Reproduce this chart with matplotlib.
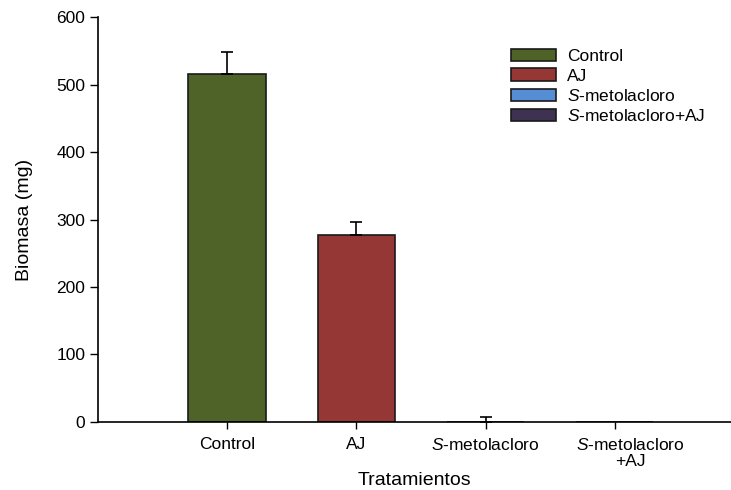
import matplotlib
matplotlib.use('Agg')
import matplotlib.pyplot as plt
import matplotlib.transforms as mtransforms
from matplotlib.patches import Patch

plt.rcParams['font.family'] = ['Liberation Sans', 'DejaVu Sans']
plt.rcParams['mathtext.fontset'] = 'custom'
plt.rcParams['mathtext.rm'] = 'Liberation Sans'
plt.rcParams['mathtext.it'] = 'Liberation Sans:italic'

# data
tratamientos = ['Control', 'AJ', 'S-metolacloro', 'S-metolacloro+AJ']
tick_labels = ['Control', 'AJ', r'$\it{S}$-metolacloro', r'$\it{S}$-metolacloro' + '\n+AJ']
legend_labels = ['Control', 'AJ', r'$\it{S}$-metolacloro', r'$\it{S}$-metolacloro+AJ']
biomasa = [515, 277, 0, 0]
error = [33, 19, 7, 0]
colores = ['#4F6228', '#953735', '#558ED5', '#3F3151']

fig = plt.figure(figsize=(7.31, 4.90), dpi=100)
ax = fig.add_axes([0.134, 0.139, 0.866, 0.826])

x = list(range(len(tratamientos)))
ax.bar(x, biomasa, width=0.6, color=colores, edgecolor='#1a1a1a', linewidth=1.2, zorder=2)
for xi, v, e in zip(x, biomasa, error):
    if e > 0:
        ax.errorbar(xi, v, yerr=[[0], [e]], fmt='none', ecolor='black',
                    elinewidth=1.2, capsize=4.5, capthick=1.2, zorder=3)

ax.set_xlim(-1.0, 3.9)
ax.set_ylim(0, 600)
ax.set_yticks([0, 100, 200, 300, 400, 500, 600])
ax.set_xticks(x)
ax.set_xticklabels(tick_labels, fontsize=12.5, linespacing=1.1)
ax.tick_params(axis='y', labelsize=12.5, direction='out', length=6, width=1, pad=3)
ax.tick_params(axis='x', direction='out', length=5, width=1, pad=6)

# last label sits a little to the right in the original
offset = mtransforms.ScaledTranslation(0.16, 0, fig.dpi_scale_trans)
lbls = ax.get_xticklabels()
lbls[3].set_transform(lbls[3].get_transform() + offset)

ax.spines['top'].set_visible(False)
ax.spines['right'].set_visible(False)
ax.spines['left'].set_linewidth(1.2)
ax.spines['bottom'].set_linewidth(1.2)

ax.set_ylabel('Biomasa (mg)', fontsize=14, labelpad=17)
ax.set_xlabel('Tratamientos', fontsize=14, labelpad=2)

handles = [Patch(facecolor=c, edgecolor='#1a1a1a', linewidth=1.2) for c in colores]
ax.legend(handles, legend_labels, loc='upper left', bbox_to_anchor=(0.628, 0.96),
          frameon=False, fontsize=12.5, handlelength=2.6, handleheight=0.7,
          labelspacing=0.25, handletextpad=0.6)

fig.savefig('out.png', dpi=100)
